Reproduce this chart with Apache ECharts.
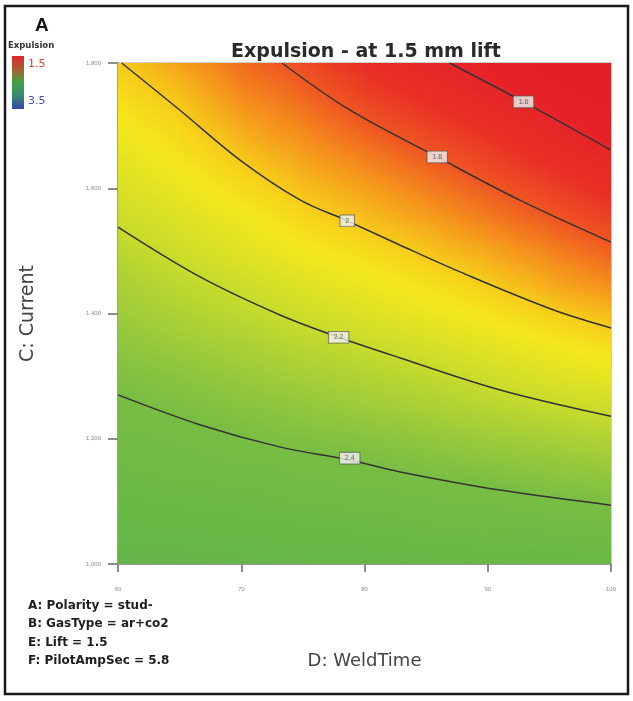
<!DOCTYPE html>
<html><head><meta charset="utf-8">
<script src="https://cdn.jsdelivr.net/npm/echarts@6/dist/echarts.min.js"></script>
<style>html,body{margin:0;padding:0;background:#fff}#c{width:633px;height:701px}</style>
</head><body><div id="c"></div><script>
// ---- data ----
const weldTimes = [60, 65, 70, 75, 80, 85, 90, 95, 100];
const currents = [1000, 1050, 1100, 1150, 1200, 1250, 1300, 1350, 1400, 1450, 1500, 1550, 1600, 1650, 1700, 1750, 1800];
// expulsion estimated at each (current row, weldTime column)
const expulsionGrid = [
  [2.59, 2.58, 2.57, 2.56, 2.56, 2.55, 2.54, 2.53, 2.52],
  [2.55, 2.54, 2.53, 2.52, 2.51, 2.49, 2.48, 2.47, 2.46],
  [2.52, 2.50, 2.49, 2.47, 2.46, 2.44, 2.43, 2.41, 2.39],
  [2.48, 2.46, 2.45, 2.43, 2.41, 2.39, 2.37, 2.34, 2.32],
  [2.45, 2.43, 2.40, 2.38, 2.36, 2.33, 2.30, 2.28, 2.25],
  [2.41, 2.39, 2.36, 2.33, 2.30, 2.27, 2.24, 2.21, 2.18],
  [2.38, 2.35, 2.31, 2.28, 2.25, 2.22, 2.18, 2.14, 2.11],
  [2.34, 2.30, 2.27, 2.23, 2.20, 2.16, 2.12, 2.08, 2.04],
  [2.30, 2.26, 2.22, 2.18, 2.14, 2.10, 2.06, 2.01, 1.97],
  [2.27, 2.22, 2.18, 2.13, 2.09, 2.05, 2.00, 1.94, 1.89],
  [2.23, 2.18, 2.13, 2.08, 2.04, 1.99, 1.94, 1.88, 1.82],
  [2.19, 2.14, 2.09, 2.03, 1.98, 1.93, 1.87, 1.81, 1.75],
  [2.15, 2.10, 2.04, 1.98, 1.93, 1.87, 1.81, 1.75, 1.68],
  [2.12, 2.06, 1.99, 1.93, 1.87, 1.81, 1.75, 1.68, 1.61],
  [2.08, 2.02, 1.94, 1.88, 1.81, 1.75, 1.69, 1.62, 1.54],
  [2.04, 1.98, 1.89, 1.83, 1.75, 1.68, 1.62, 1.55, 1.47],
  [2.00, 1.93, 1.84, 1.78, 1.69, 1.62, 1.56, 1.49, 1.40]
];
const contourLevels = ['1.6', '1.8', '2', '2.2', '2.4'];
const contour16 = [[86.9, 1800], [92.9, 1738], [100, 1661]];
const contour18 = [[73.3, 1800], [78.8, 1725], [85.9, 1650], [92.6, 1581], [100, 1514]];
const contour20 = [[60.3, 1800], [65.0, 1725], [69.9, 1645], [74.8, 1581], [78.6, 1548], [82.9, 1509], [87.8, 1466], [95.3, 1406], [100, 1377]];
const contour22 = [[60, 1538], [66.7, 1458], [73.1, 1398], [77.9, 1362], [82.9, 1329], [91, 1278], [100, 1236]];
const contour24 = [[60, 1270], [66.7, 1222], [73.1, 1187], [78.8, 1166], [82.9, 1147], [91, 1118], [100, 1094]];
const contourLabelPoints = [[92.9, 1738], [85.9, 1650], [78.6, 1548], [77.9, 1362], [78.8, 1169]];
const xTicks = [60, 70, 80, 90, 100];
const yTicks = [1000, 1200, 1400, 1600, 1800];
const factorNotes = ['A: Polarity = stud-', 'B: GasType = ar+co2', 'E: Lift = 1.5', 'F: PilotAmpSec = 5.8'];
const scaleLabels = ['1.5', '3.5'];

// ---- colour ramp (style) ----
const ramp = [
  [1.40, [228, 30, 38]], [1.55, [230, 32, 40]], [1.70, [233, 48, 37]], [1.80, [239, 86, 34]],
  [1.90, [245, 145, 28]], [2.00, [246, 205, 26]], [2.07, [245, 232, 28]], [2.20, [198, 219, 44]],
  [2.30, [156, 203, 58]], [2.40, [120, 189, 67]], [2.55, [102, 184, 70]], [3.50, [44, 62, 154]]
];
function colorOf(v) {
  if (v <= ramp[0][0]) return 'rgb(' + ramp[0][1].join(',') + ')';
  for (let i = 1; i < ramp.length; i++) {
    if (v <= ramp[i][0]) {
      const a = ramp[i - 1], b = ramp[i];
      const t = (v - a[0]) / (b[0] - a[0]);
      const c = a[1].map((x, k) => Math.round(x + (b[1][k] - x) * t));
      return 'rgb(' + c.join(',') + ')';
    }
  }
  return 'rgb(' + ramp[ramp.length - 1][1].join(',') + ')';
}

// cells between grid nodes
const cells = [];
for (let j = 0; j < currents.length - 1; j++) {
  for (let i = 0; i < weldTimes.length - 1; i++) {
    cells.push([weldTimes[i], currents[j], weldTimes[i + 1], currents[j + 1],
      expulsionGrid[j][i], expulsionGrid[j][i + 1], expulsionGrid[j + 1][i], expulsionGrid[j + 1][i + 1]]);
  }
}
function renderCell(params, api) {
  const x0 = api.value(0), y0 = api.value(1), x1 = api.value(2), y1 = api.value(3);
  const v00 = api.value(4), v10 = api.value(5), v01 = api.value(6), v11 = api.value(7);
  const pA = api.coord([x0, y0]), pB = api.coord([x1, y1]);
  const left = Math.floor(pA[0]), right = Math.ceil(pB[0]);
  const bottom = pA[1], top = pB[1];
  const h = bottom - top, N = 10;
  const children = [];
  for (let k = 0; k < N; k++) {
    const t = (k + 0.5) / N;
    const vl = v00 + (v01 - v00) * t, vr = v10 + (v11 - v10) * t;
    const stops = [0, 0.25, 0.5, 0.75, 1].map(s => ({ offset: s, color: colorOf(vl + (vr - vl) * s) }));
    const yb = Math.ceil(bottom - k * h / N) + 1;
    const yt = Math.floor(bottom - (k + 1) * h / N);
    children.push({
      type: 'rect',
      shape: { x: left, y: yt, width: right - left + 1, height: yb - yt },
      style: { fill: { type: 'linear', x: 0, y: 0, x2: 1, y2: 0, colorStops: stops } },
      silent: true
    });
  }
  return { type: 'group', children: children };
}

const contourSets = [contour16, contour18, contour20, contour22, contour24];
const lineSeries = contourSets.map(d => ({
  type: 'line', data: d, showSymbol: false, smooth: 0.35, clip: true, z: 3, silent: true,
  lineStyle: { color: '#333333', width: 1.5 }
}));

const F = 'DejaVu Sans';
const chart = echarts.init(document.getElementById('c'), null, { renderer: 'canvas' });
function txt(x, y, text, o) {
  return Object.assign({ type: 'text', x: x, y: y, silent: true,
    style: Object.assign({ text: text, fontFamily: F, fontSize: 12, fill: '#222',
      align: 'left', verticalAlign: 'middle', textAlign: 'left', textVerticalAlign: 'middle' }, o) });
}
const graphics = [
  { type: 'rect', silent: true, shape: { x: 5, y: 6, width: 623, height: 688 }, style: { fill: 'none', stroke: '#1a1a1a', lineWidth: 2.5 } },
  txt(35, 26, 'A', { fontFamily: 'Liberation Sans', fontSize: 19, fontWeight: 'bold', fill: '#111' }),
  txt(8, 46, 'Expulsion', { fontSize: 8.5, fontWeight: 'bold', fill: '#333' }),
  { type: 'rect', silent: true, shape: { x: 12, y: 56, width: 12, height: 53 },
    style: { fill: { type: 'linear', x: 0, y: 0, x2: 0, y2: 1, colorStops: [
      { offset: 0, color: '#e3262b' }, { offset: 0.3, color: '#9a6a34' }, { offset: 0.5, color: '#3ea446' },
      { offset: 0.75, color: '#3a8a72' }, { offset: 1, color: '#3347a8' }] } } },
  txt(28, 64, scaleLabels[0], { fontSize: 11, fill: '#e53d3d' }),
  txt(28, 101, scaleLabels[1], { fontSize: 11, fill: '#4451b5' })
];
factorNotes.forEach((s, i) => graphics.push(txt(28, 606 + i * 18.3, s, { fontSize: 12, fontWeight: 'bold', fill: '#1e1e1e' })));

chart.setOption({
  animation: false,
  backgroundColor: '#ffffff',
  title: {
    text: 'Expulsion - at 1.5 mm lift', left: 361, top: 38, textAlign: 'center',
    textStyle: { fontFamily: F, fontSize: 19, fontWeight: 'bold', color: '#2a2a2a' }
  },
  grid: { left: 118, top: 63, right: 22, bottom: 137, show: true, borderColor: '#9a9a9a', borderWidth: 1, backgroundColor: 'transparent' },
  xAxis: {
    type: 'value', min: xTicks[0], max: xTicks[xTicks.length - 1], interval: xTicks[1] - xTicks[0],
    name: 'D: WeldTime', nameLocation: 'middle', nameGap: 88,
    nameTextStyle: { fontFamily: F, fontSize: 18, color: '#444' },
    axisLine: { show: true, lineStyle: { color: '#8c8c8c', width: 1.5 } },
    axisTick: { show: true, length: 8, lineStyle: { color: '#8c8c8c', width: 2 } },
    axisLabel: { fontSize: 6, color: '#8a8a8a', margin: 22 },
    splitLine: { show: false }
  },
  yAxis: {
    type: 'value', min: yTicks[0], max: yTicks[yTicks.length - 1], interval: yTicks[1] - yTicks[0],
    name: 'C: Current', nameLocation: 'middle', nameGap: 80,
    nameTextStyle: { fontFamily: F, fontSize: 19, color: '#444' },
    axisLine: { show: true, lineStyle: { color: '#8c8c8c', width: 1.5 } },
    axisTick: { show: true, length: 10, lineStyle: { color: '#8c8c8c', width: 2 } },
    axisLabel: { fontSize: 6, color: '#8a8a8a', margin: 17 },
    splitLine: { show: false }
  },
  graphic: graphics,
  series: [
    { type: 'custom', data: cells, renderItem: renderCell, clip: true, z: 1, silent: true,
      encode: { x: [0, 2], y: [1, 3] } }
  ].concat(lineSeries).concat([
    { type: 'scatter', z: 5, silent: true, symbol: 'rect', symbolSize: 1,
      itemStyle: { color: 'rgba(0,0,0,0)' },
      data: contourLabelPoints.map((p, i) => [p[0], p[1], contourLevels[i]]),
      label: { show: true, position: 'inside', formatter: p => p.value[2], fontSize: 7, color: '#444',
        backgroundColor: '#f3f3f3', borderColor: '#555', borderWidth: 0.8, padding: [2, 5] } }
  ])
});
</script></body></html>
